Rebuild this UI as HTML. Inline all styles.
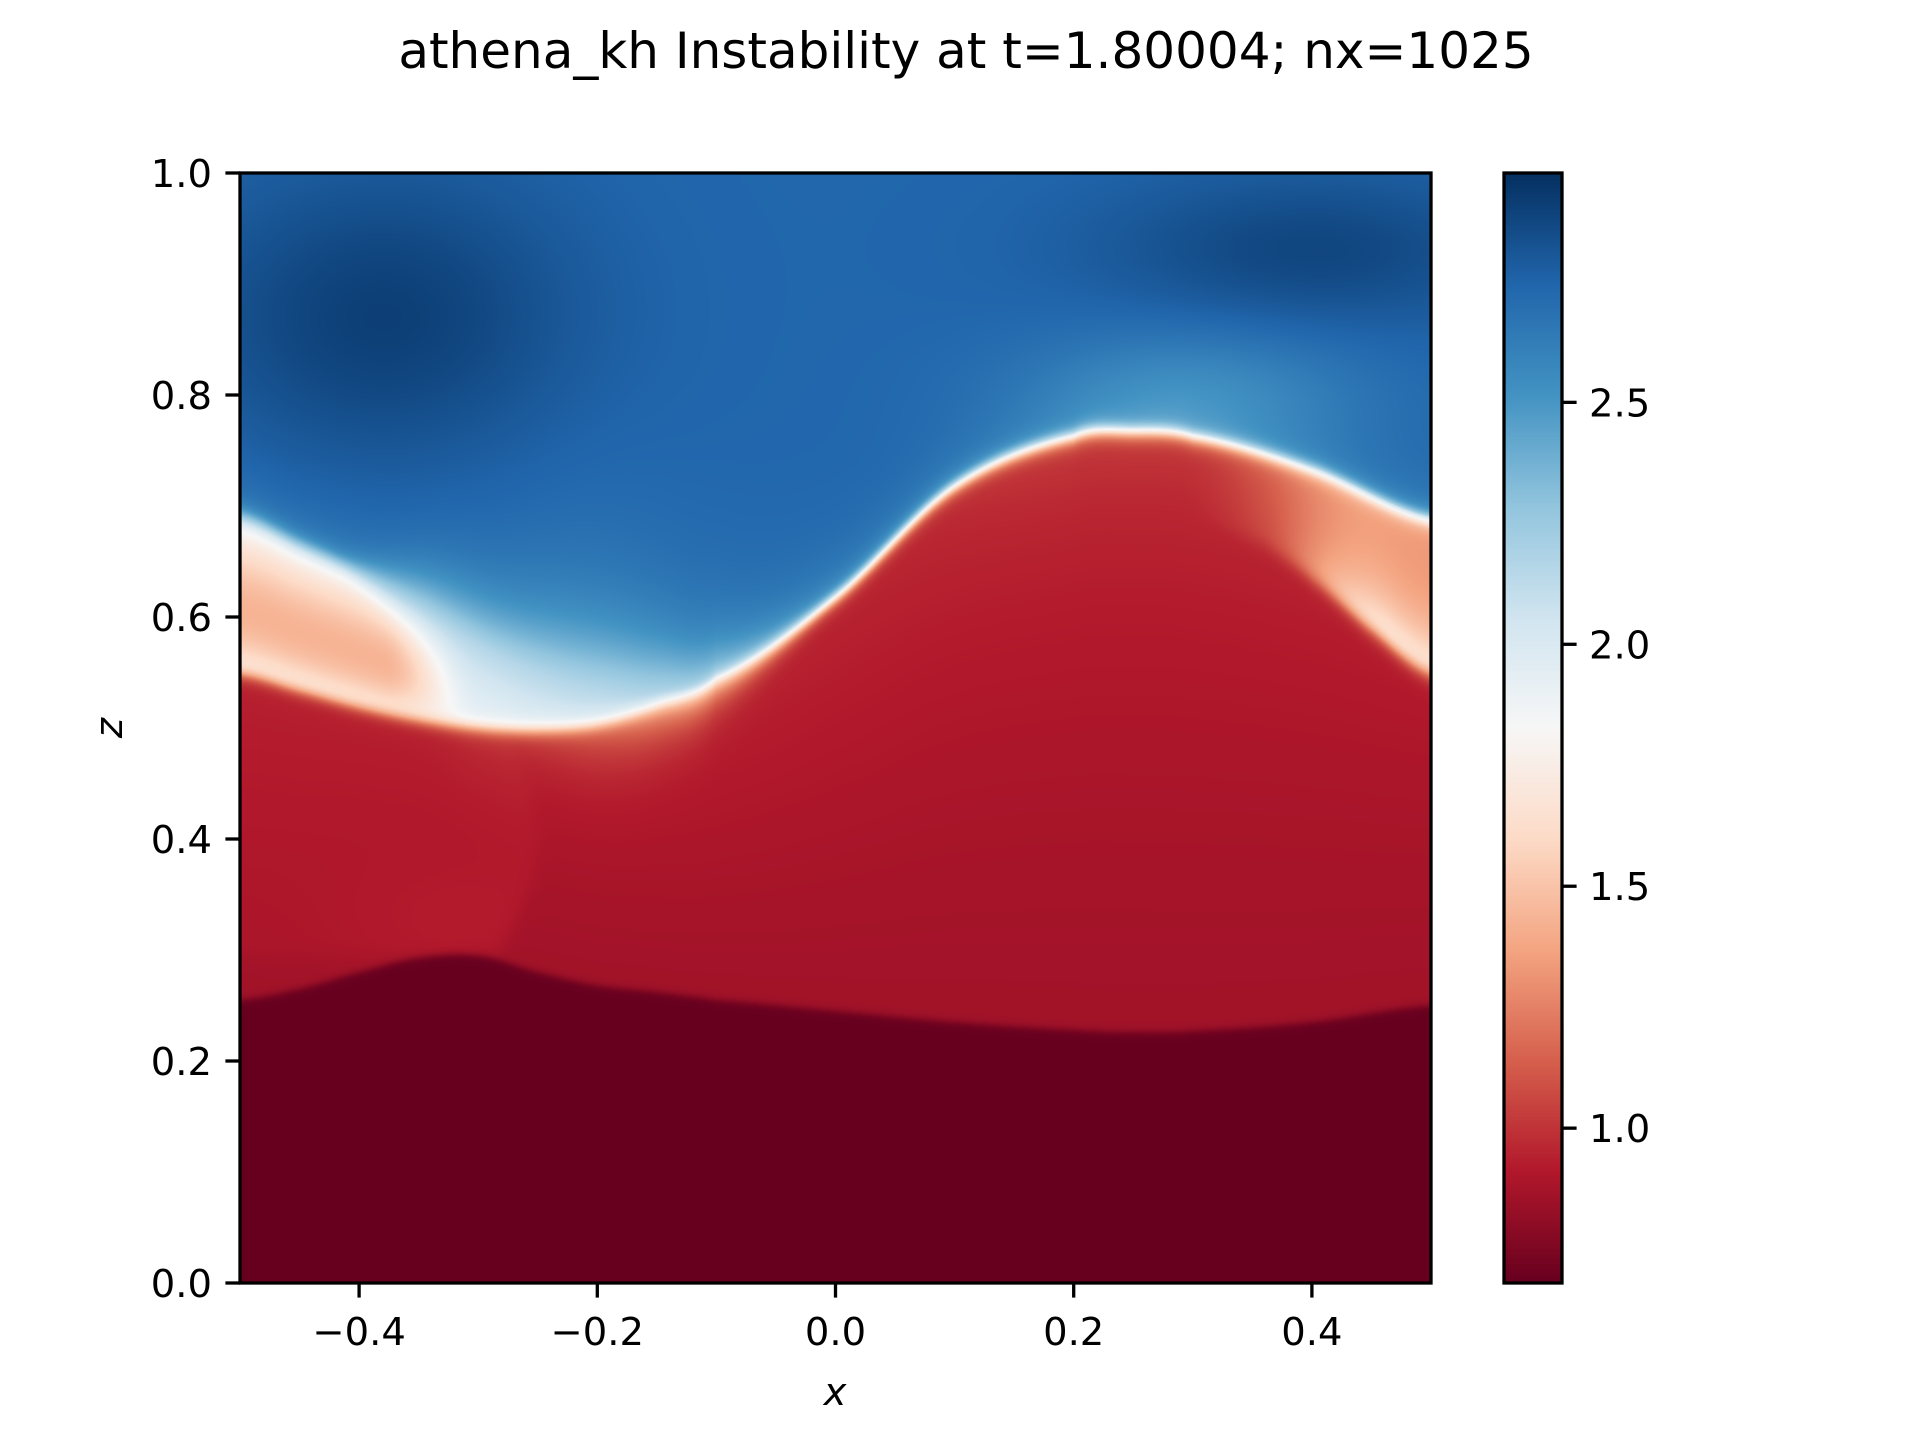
<!DOCTYPE html>
<html><head><meta charset="utf-8"><style>
html,body{margin:0;padding:0;background:#fff;}
#fig{position:relative;width:1920px;height:1440px;overflow:hidden;font-family:"DejaVu Sans","Liberation Sans",sans-serif;}
canvas{position:absolute;}
svg{position:absolute;left:0;top:0;font-family:"DejaVu Sans","Liberation Sans",sans-serif;}
</style></head><body>
<div id="fig">
<canvas id="field" width="1191" height="1110" style="left:240px;top:173px"></canvas>
<canvas id="cbar" width="58" height="1110" style="left:1504px;top:173px"></canvas>
<svg id="ov" width="1920" height="1440"></svg>
</div>
<script>
// ---- data ----
const knotX = [-0.5,-0.45,-0.4,-0.35,-0.3,-0.25,-0.2,-0.15,-0.1,0.0,0.1,0.2,0.25,0.3,0.4,0.5];
const interfaceZ = [0.69,0.665,0.64,0.61,0.575,0.55,0.535,0.532,0.548,0.62,0.72,0.765,0.77,0.765,0.735,0.69];
const leftLobeLowerZ = [0.55,0.535,0.52,0.508,0.50,0.498,0.503,0.52,0.545,0.62,0.72,0.765,0.77,0.765,0.735,0.69];
const darkLayerZ = [0.255,0.265,0.28,0.293,0.295,0.28,0.268,0.262,0.255,0.245,0.235,0.228,0.226,0.227,0.235,0.25];
const rightLobeX = [0.3,0.36,0.4,0.45,0.5];
const rightLobeLowerZ = [0.69,0.665,0.635,0.59,0.55];
const valueRange = [0.68,2.974];
const cbarTicks = [1.0,1.5,2.0,2.5];
const xTicks = [-0.4,-0.2,0.0,0.2,0.4];
const yTicks = [0.0,0.2,0.4,0.6,0.8,1.0];

// ---- axes ----
const PL=240,PT=173,PW=1191,PH=1110;
const X=v=>PL+(v+0.5)*PW, Y=v=>PT+(1-v)*PH;
const CY=v=>PT+(valueRange[1]-v)/(valueRange[1]-valueRange[0])*PH;

function interp(xs,ys,x){
  if(x<=xs[0])return ys[0]; if(x>=xs[xs.length-1])return ys[ys.length-1];
  let i=0; while(x>xs[i+1])i++;
  const t=(x-xs[i])/(xs[i+1]-xs[i]);
  const p0=ys[Math.max(i-1,0)],p1=ys[i],p2=ys[i+1],p3=ys[Math.min(i+2,ys.length-1)];
  const t2=t*t,t3=t2*t;
  return 0.5*(2*p1+(-p0+p2)*t+(2*p0-5*p1+4*p2-p3)*t2+(-p0+3*p1-3*p2+p3)*t3);
}
const stops=[[103,0,31],[178,24,43],[214,96,77],[244,165,130],[253,219,199],[247,247,247],[209,229,240],[146,197,222],[67,147,195],[33,102,172],[5,48,97]];
function cmap(v){
  let t=(v-valueRange[0])/(valueRange[1]-valueRange[0]); t=Math.max(0,Math.min(1,t))*10;
  const i=Math.min(9,Math.floor(t)),f=t-i,a=stops[i],b=stops[i+1];
  return [a[0]+(b[0]-a[0])*f,a[1]+(b[1]-a[1])*f,a[2]+(b[2]-a[2])*f];
}
const sig=(d,w)=>1/(1+Math.exp(-d/w));
const ss=(a,b,x)=>{let t=Math.max(0,Math.min(1,(x-a)/(b-a)));return t*t*(3-2*t);};

function field(x,z){
  const zm=interp(knotX,interfaceZ,x), zl=Math.min(interp(knotX,leftLobeLowerZ,x),zm), zd=interp(knotX,darkLayerZ,x);
  let vb=2.74+0.17*Math.exp(-(((x+0.38)/0.16)**2+((z-0.87)/0.13)**2))
        +0.14*Math.exp(-(((x-0.4)/0.18)**2+((z-0.93)/0.07)**2))
        -0.18*Math.exp(-(((x-0.3)/0.14)**2+((z-0.8)/0.06)**2));
  const fz=Math.exp(-(((x+0.2)/0.13)**2));
  vb-=0.55*Math.exp(-Math.max(0,z-zm)/(0.03+0.03*fz))*(0.3+0.7*fz);
  const aboveDark=sig(z-zd,0.002);
  let mid=0.86+0.09*Math.max(0,Math.min(1,(z-zd)/Math.max(0.05,zm-zd)))**1.5;
  const xb=-0.285+0.035*Math.sin(Math.max(0,Math.min(1,(z-0.29)/0.22))*Math.PI);
  mid+=0.025*sig(xb-x,0.004)*ss(0.28,0.31,z)+0.03*sig(xb-x,0.004)*Math.exp(-(((x+0.32)/0.1)**2+((z-0.32)/0.06)**2));
  mid+=0.08*Math.exp(-Math.max(0,zm-z)/0.06)*ss(0.0,0.2,x);
  if(x>0.28){
    const zr=interp(rightLobeX,rightLobeLowerZ,x);
    const a=ss(0.29,0.45,x), a2=ss(0.36,0.47,x);
    const up=sig(z-zr,0.005);
    mid+=up*(a*0.3+a2*0.62*Math.exp(-Math.max(0,z-zr)/0.04));
  }
  const vr=0.68+(mid-0.68)*aboveDark;
  const u=Math.max(0,Math.min(1,(z-zl)/Math.max(zm-zl,1e-4)));
  const f=ss(-0.3,-0.38,x);
  const vlobe=1.88+0.25*u*ss(-0.36,-0.2,x)-0.45*f*Math.sin(Math.PI*Math.pow(u,0.75));
  const sLow=sig(z-zl,0.004);
  const wUp=0.005+0.02*ss(-0.42,-0.3,x)*(1-ss(-0.22,0.0,x));
  const sUp=sig(z-zm,wUp);
  const below=vr*(1-sLow)+vlobe*sLow;
  return below*(1-sUp)+vb*sUp;
}
(function(){
  const c=document.getElementById('field').getContext('2d');
  const img=c.createImageData(PW,PH);
  for(let py=0;py<PH;py++){const z=1-(py+0.5)/PH;
    for(let px=0;px<PW;px++){const x=-0.5+(px+0.5)/PW;
      const col=cmap(field(x,z)),k=(py*PW+px)*4;
      img.data[k]=col[0];img.data[k+1]=col[1];img.data[k+2]=col[2];img.data[k+3]=255;}}
  c.putImageData(img,0,0);
  const cb=document.getElementById('cbar').getContext('2d');
  for(let py=0;py<PH;py++){const v=valueRange[1]-(py+0.5)/PH*(valueRange[1]-valueRange[0]);
    const col=cmap(v);cb.fillStyle=`rgb(${col[0]|0},${col[1]|0},${col[2]|0})`;cb.fillRect(0,py,58,1);}
})();
const svg=document.getElementById('ov'),NS='http://www.w3.org/2000/svg';
function el(tag,attrs,txt){const e=document.createElementNS(NS,tag);for(const k in attrs)e.setAttribute(k,attrs[k]);if(txt!==undefined)e.textContent=txt;svg.appendChild(e);return e;}
const fmt=v=>(v<0?'\u2212':'')+Math.abs(v).toFixed(1);
let e;
e=el('rect',{x:PL,y:PT,width:PW,height:PH,fill:'none',stroke:'#000','stroke-width':3.3});


e=el('rect',{x:1504,y:PT,width:58,height:PH,fill:'none',stroke:'#000','stroke-width':3.3});


const FS=38.5;
xTicks.forEach(v=>{
  e=el('line',{x1:X(v),x2:X(v),y1:PT+PH,y2:PT+PH+14.6,stroke:'#000','stroke-width':3.3});
  
  
  e=el('text',{x:X(v),y:PT+PH+62,'text-anchor':'middle','font-size':FS,fill:'#000'},fmt(v));
  
  
});
yTicks.forEach(v=>{
  e=el('line',{x1:PL-14.6,x2:PL,y1:Y(v),y2:Y(v),stroke:'#000','stroke-width':3.3});
  
  
  e=el('text',{x:PL-28,y:Y(v)+14,'text-anchor':'end','font-size':FS,fill:'#000'},fmt(v));
  
  
});
cbarTicks.forEach(v=>{
  e=el('line',{x1:1562,x2:1576.6,y1:CY(v),y2:CY(v),stroke:'#000','stroke-width':3.3});
  
  
  e=el('text',{x:1589,y:CY(v)+14,'font-size':FS,fill:'#000'},v.toFixed(1));
  
  
});
e=el('text',{x:835,y:1405,'text-anchor':'middle','font-size':FS,'font-style':'italic',fill:'#000'},'x');


e=el('text',{x:122,y:728,'text-anchor':'middle','font-size':FS,'font-style':'italic',fill:'#000',transform:'rotate(-90 122 728)'},'z');


e=el('text',{x:966,y:68,'text-anchor':'middle','font-size':50,fill:'#000'},'athena_kh Instability at t=1.80004; nx=1025');


</script>
</body></html>
